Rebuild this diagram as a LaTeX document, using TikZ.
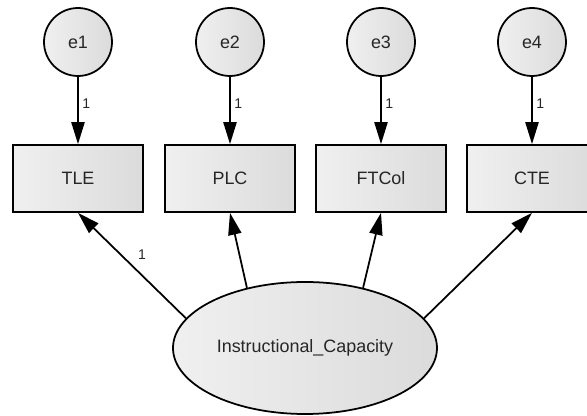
\documentclass[tikz,border=0pt]{standalone}
\usepackage{fontspec}
\setmainfont{Liberation Sans}
\usepackage{tikz}
\usetikzlibrary{shapes.geometric,arrows.meta}

\tikzset{
  errvar/.style={circle, draw, line width=1pt, minimum size=1.36cm, inner sep=0pt,
    left color=black!6, right color=black!14, text=black!85, font=\fontsize{10.2}{12}\selectfont},
  obsvar/.style={rectangle, draw, line width=1pt, minimum width=2.6cm, minimum height=1.34cm,
    left color=black!6, right color=black!14, text=black!85, font=\fontsize{10.2}{12}\selectfont},
  latvar/.style={ellipse, draw, line width=1pt, minimum width=5.28cm, minimum height=2.64cm, inner sep=0pt,
    left color=black!6, right color=black!14, text=black!85, font=\fontsize{10.2}{12}\selectfont},
  regarrow/.style={line width=1pt, -{Triangle[length=12.5pt,width=7.5pt]}},
  wt/.style={inner sep=2pt, text=black!85, font=\fontsize{8}{9}\selectfont}
}

\begin{document}
\begin{tikzpicture}
\useasboundingbox (0,0) rectangle (11.74,-8.32);
\node[errvar] (e1) at (1.56,-0.84) {e1};
\node[errvar] (e2) at (4.60,-0.84) {e2};
\node[errvar] (e3) at (7.62,-0.84) {e3};
\node[errvar] (e4) at (10.64,-0.84) {e4};
\node[obsvar] (TLE) at (1.56,-3.57) {TLE};
\node[obsvar] (PLC) at (4.60,-3.57) {PLC};
\node[obsvar] (FTCol) at (7.62,-3.57) {FTCol};
\node[obsvar] (CTE) at (10.64,-3.57) {CTE};
\node[latvar] (IC) at (6.10,-6.96) {Instructional\_Capacity};
\draw[regarrow] (e1) -- node[wt, pos=0.4, right] {1} (TLE);
\draw[regarrow] (e2) -- node[wt, pos=0.4, right] {1} (PLC);
\draw[regarrow] (e3) -- node[wt, pos=0.4, right] {1} (FTCol);
\draw[regarrow] (e4) -- node[wt, pos=0.4, right] {1} (CTE);
\draw[regarrow] (IC.166) -- node[wt, pos=0.5, above right=1pt] {1} (TLE.south);
\draw[regarrow] (IC.134) -- (PLC.south);
\draw[regarrow] (IC.46) -- (FTCol.south);
\draw[regarrow] (IC.14) -- (CTE.south);
\end{tikzpicture}
\end{document}
